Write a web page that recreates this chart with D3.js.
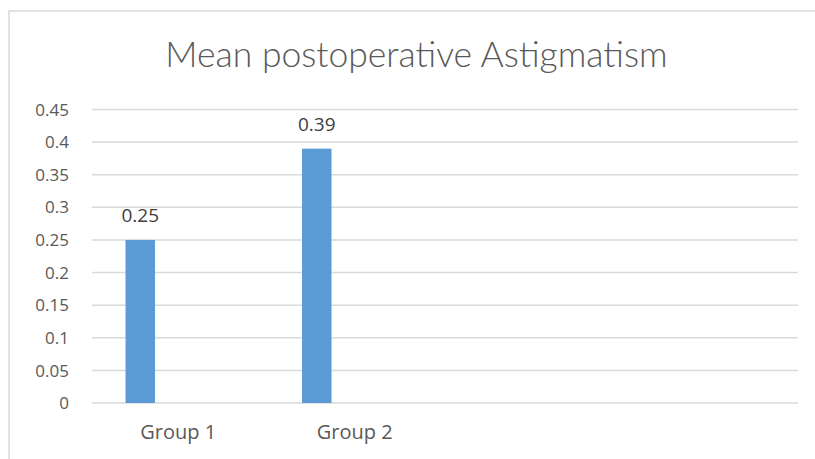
<!DOCTYPE html>
<html>
<head>
<meta charset="utf-8">
<script src="https://cdn.jsdelivr.net/npm/d3@7"></script>
<style>
  html, body { margin: 0; padding: 0; background: #fff; }
  svg { display: block; }
  text { font-family: "Open Sans", Lato, sans-serif; }
  .title { font-family: Lato, "Open Sans", sans-serif; }
</style>
</head>
<body>
<svg id="chart" width="815" height="459"></svg>
<script>
// Chart data
const title = "Mean postoperative Astigmatism";
const categories = ["Group 1", "Group 2", "", ""];
const values = [0.25, 0.39, null, null];
const valueLabels = ["0.25", "0.39", null, null];
const yTicks = [0, 0.05, 0.1, 0.15, 0.2, 0.25, 0.3, 0.35, 0.4, 0.45];
const yTickLabels = ["0", "0.05", "0.1", "0.15", "0.2", "0.25", "0.3", "0.35", "0.4", "0.45"];

const W = 815, H = 459;
const plot = { left: 92, right: 798, top: 109.5, bottom: 403 };

const svg = d3.select("#chart");

svg.append("rect").attr("width", W).attr("height", H).attr("fill", "#fff");

// chart-area border
svg.append("rect")
  .attr("x", 9).attr("y", 11)
  .attr("width", W).attr("height", H)
  .attr("fill", "none")
  .attr("stroke", "#d9d9d9")
  .attr("stroke-width", 1.5);

const x = d3.scaleBand()
  .domain(d3.range(categories.length))
  .range([plot.left, plot.right])
  .padding(0);

const y = d3.scaleLinear()
  .domain([0, 0.45])
  .range([plot.bottom, plot.top]);

// gridlines
svg.append("g")
  .selectAll("line")
  .data(yTicks)
  .join("line")
  .attr("x1", plot.left).attr("x2", plot.right)
  .attr("y1", d => y(d)).attr("y2", d => y(d))
  .attr("stroke", "#d9d9d9")
  .attr("stroke-width", 1.5);

// y tick labels
svg.append("g")
  .selectAll("text")
  .data(yTicks)
  .join("text")
  .attr("x", 69)
  .attr("y", d => y(d))
  .attr("dy", "0.36em")
  .attr("text-anchor", "end")
  .attr("font-size", 17)
  .attr("fill", "#595959")
  .text((d, i) => yTickLabels[i]);

const bw = x.bandwidth();
const barOffset = bw * 0.19;
const barWidth = bw * 0.167;

const barData = categories.map((c, i) => ({ i, c, v: values[i], label: valueLabels[i] }))
  .filter(d => d.v != null);

// bars
svg.append("g")
  .selectAll("rect")
  .data(barData)
  .join("rect")
  .attr("x", d => x(d.i) + barOffset)
  .attr("width", barWidth)
  .attr("y", d => y(d.v))
  .attr("height", d => y(0) - y(d.v))
  .attr("fill", "#5b9bd5");

// value labels
svg.append("g")
  .selectAll("text")
  .data(barData)
  .join("text")
  .attr("x", d => x(d.i) + barOffset + barWidth / 2)
  .attr("y", d => y(d.v) - 18)
  .attr("text-anchor", "middle")
  .attr("font-size", 19)
  .attr("fill", "#404040")
  .text(d => d.label);

// category labels
svg.append("g")
  .selectAll("text")
  .data(categories)
  .join("text")
  .attr("x", (d, i) => x(i) + bw / 2 - 2)
  .attr("y", 439)
  .attr("text-anchor", "middle")
  .attr("font-size", 20)
  .attr("fill", "#595959")
  .text(d => d);

// title
svg.append("text")
  .attr("class", "title")
  .attr("x", 416.5)
  .attr("y", 67)
  .attr("text-anchor", "middle")
  .attr("font-size", 35.5)
  .attr("font-weight", 300)
  .attr("fill", "#595959")
  .text(title);
</script>
</body>
</html>
